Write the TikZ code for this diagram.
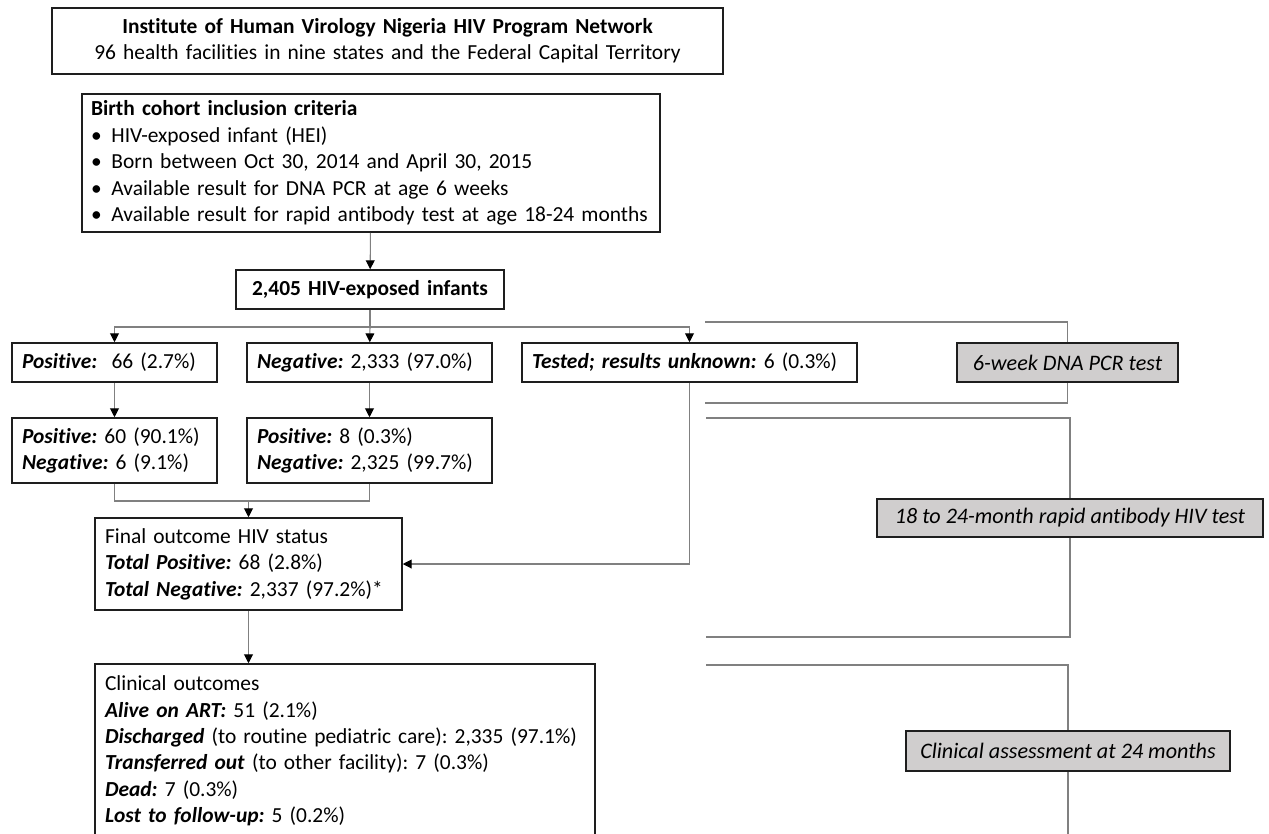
\documentclass[tikz,border=0pt]{standalone}
\usepackage{fontspec}
\setmainfont{Carlito}[Ligatures=NoCommon]
\usetikzlibrary{arrows.meta,positioning,calc}
\definecolor{flowink}{HTML}{1E1E1E}
\definecolor{flowline}{HTML}{808080}
\definecolor{flowgrey}{HTML}{D0CECE}
\newcommand{\bi}[1]{\textbf{\textit{#1}}}
\newcommand{\itm}{\makebox[0.95em][l]{\textbullet}}
\frenchspacing
\tikzset{
  bx/.style={draw=flowink, line width=0.9pt, fill=white, inner xsep=0.2cm, inner ysep=0pt, align=left},
  ctr/.style={bx, align=center},
  lab/.style={draw=flowink, line width=0.9pt, fill=flowgrey, inner sep=0pt, font=\fontsize{12.6}{15}\selectfont\itshape},
  ln/.style={draw=flowline, line width=0.6pt},
  arr/.style={ln, -{Triangle[length=5pt, width=5pt, color=black]}},
}
\begin{document}
\begin{tikzpicture}[x=0.02cm, y=-0.02cm, font=\fontsize{12.2}{15}\selectfont]
  \useasboundingbox (0,0) rectangle (1269,833);
  % main flow
  \node[ctr, text width=13.02cm, minimum height=1.32cm] (net) at (387.5,41)
    {\textbf{Institute of Human Virology Nigeria HIV Program Network}\\\mbox{96 health facilities in nine states and the Federal Capital Territory}};
  \node[bx, inner xsep=0.18cm, text width=11.2cm, minimum height=2.76cm] (crit) at (371,163)
    {\textbf{Birth cohort inclusion criteria}\\
     \itm HIV-exposed infant (HEI)\\
     \itm Born between Oct 30, 2014 and April 30, 2015\\
     \itm Available result for DNA PCR at age 6 weeks\\
     \itm \mbox{Available result for rapid antibody test at age 18-24 months}};
  \node[ctr, text width=4.96cm, minimum height=0.78cm] (tot) at (370,289.5) {\textbf{2,405 HIV-exposed infants}};
  \coordinate (br) at (370,327);
  \node[bx, text width=3.70cm, minimum height=0.78cm] (pcrpos) at (114.5,362.5) {\bi{Positive:}\ \ 66 (2.7\%)};
  \node[bx, text width=4.50cm, minimum height=0.78cm] (pcrneg) at (369.5,362.5) {\bi{Negative:} 2,333 (97.0\%)};
  \node[bx, text width=6.30cm, minimum height=0.78cm] (pcrunk) at (689.5,362.5) {\mbox{\bi{Tested; results unknown:} 6 (0.3\%)}};
  \node[bx, text width=3.70cm, minimum height=1.30cm] (abpos) at (114.5,450.5) {\bi{Positive:} 60 (90.1\%)\\\bi{Negative:} 6 (9.1\%)};
  \node[bx, text width=4.50cm, minimum height=1.30cm] (abneg) at (369.5,450.5) {\bi{Positive:} 8 (0.3\%)\\\bi{Negative:} 2,325 (99.7\%)};
  \coordinate (mg) at (248.5,501);
  \node[bx, text width=5.74cm, minimum height=1.84cm] (fin) at (248.5,564)
    {Final outcome HIV status\\\bi{Total Positive:} 68 (2.8\%)\\\bi{Total Negative:} 2,337 (97.2\%)*};
  \node[bx, text width=9.60cm, minimum height=3.48cm] (clin) at (345,751)
    {Clinical outcomes\\
     \bi{Alive on ART:} 51 (2.1\%)\\
     \mbox{\bi{Discharged} (to routine pediatric care): 2,335 (97.1\%)}\\
     \bi{Transferred out} (to other facility): 7 (0.3\%)\\
     \bi{Dead:} 7 (0.3\%)\\
     \bi{Lost to follow-up:} 5 (0.2\%)};
  \draw[arr] (crit) -- (tot);
  \draw[ln] (tot) -- (br);
  \draw[arr] (br) -| (pcrpos.north);
  \draw[arr] (br) -- (pcrneg);
  \draw[arr] (br) -| (pcrunk.north);
  \draw[arr] (pcrpos) -- (abpos);
  \draw[arr] (pcrneg) -- (abneg);
  \draw[ln] (abpos.south) |- (mg);
  \draw[ln] (abneg.south) |- (mg);
  \draw[arr] (mg) -- (fin);
  \draw[arr] (pcrunk.south) |- (fin.east);
  \draw[arr] (fin.south) -- (fin.south |- clin.north);
  % time brackets
  \coordinate (pcrtop) at (705,322);
  \coordinate (pcrbot) at (705,403);
  \coordinate (abtop) at (706,418);
  \coordinate (abbot) at (706,637);
  \coordinate (cltop) at (706,665);
  \coordinate (clbot) at (1070,845);
  \node[lab, minimum width=4.42cm, minimum height=0.78cm] (wk6) at (1067.5,362.5) {6-week DNA PCR test};
  \node[lab, minimum width=7.72cm, minimum height=0.76cm] (mo18) at (1070,518) {18 to 24-month rapid antibody HIV test};
  \node[lab, minimum width=6.48cm, minimum height=0.80cm] (mo24) at (1068,751) {Clinical assessment at 24 months};
  \draw[ln] (pcrtop) -| (wk6.north);
  \draw[ln] (wk6.south) |- (pcrbot);
  \draw[ln] (abtop) -| (mo18.north);
  \draw[ln] (mo18.south) |- (abbot);
  \draw[ln] (cltop) -| (mo24.north);
  \draw[ln] (mo24.south) -- (mo24.south |- clbot);
\end{tikzpicture}
\end{document}
